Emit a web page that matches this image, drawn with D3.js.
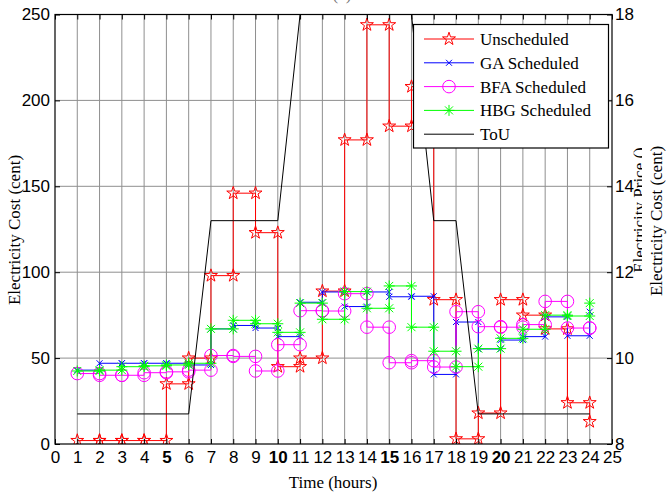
<!DOCTYPE html>
<html>
<head>
<meta charset="utf-8">
<script src="https://cdn.jsdelivr.net/npm/d3@7"></script>
<style>
  body { margin: 0; background: #fff; }
  svg { display: block; }
</style>
</head>
<body>
<svg id="chart" width="667" height="492"></svg>
<script>
// Hourly electricity cost for each scheduling strategy (cent) and ToU price
const hours = d3.range(1, 25);
const unscheduled  = [2, 2, 2, 2, 35, 50, 98, 146, 123, 45, 50, 89, 177, 244, 185, 208, 84, 3, 18, 84, 75, 67, 24, 13];
const gaScheduled  = [43, 47, 47, 47, 47, 46, 67, 69, 67.5, 62.5, 82.5, 88.5, 80, 88.5, 85.7, 86, 40.5, 71, 55.3, 60.5, 62.5, 74, 63, 77];
const bfaScheduled = [41, 40, 40, 41.5, 42, 43, 51.5, 51, 42.5, 57.8, 77.6, 77.4, 87.5, 68, 47.3, 48.5, 44.8, 77, 68.3, 68, 69.5, 83, 67.5, 67.5];
const hbgScheduled = [42.5, 43, 45, 45.5, 46, 47, 67, 72, 70, 65, 82, 72.6, 88.7, 79, 92, 68, 54, 45, 55.5, 61.5, 66.8, 75, 74.5, 82];
const touPrice     = [8.7, 8.7, 8.7, 8.7, 8.7, 8.7, 13.2, 13.2, 13.2, 13.2, 18, 18, 18, 18, 18, 18, 13.2, 13.2, 8.7, 8.7, 8.7, 8.7, 8.7, 8.7];

// Axis ticks and labels
const xTicks = d3.range(0, 26);
const boldHours = [5, 10, 15, 20];
const costTicks = [0, 50, 100, 150, 200, 250];
const priceTicks = [8, 10, 12, 14, 16, 18];
const seriesNames = ["Unscheduled", "GA Scheduled", "BFA Scheduled", "HBG Scheduled", "ToU"];
const seriesColors = ["#ff0000", "#0000ff", "#ff00ff", "#00ff00", "#000000"];
const seriesMarkers = ["star", "x", "circle", "asterisk", "none"];

const svg = d3.select("#chart");
const serif = "'Liberation Serif', 'Times New Roman', serif";
const sans = "'Liberation Sans', Arial, sans-serif";

const x = d3.scaleLinear().domain([0, 25]).range([55, 612]);
const yL = d3.scaleLinear().domain([0, 250]).range([444, 14.5]);
const yR = d3.scaleLinear().domain([8, 18]).range([444, 14.5]);

svg.append("rect").attr("width", 667).attr("height", 492).attr("fill", "#fff");

// Title, mostly above the visible area
svg.append("text").attr("x", 342).attr("y", 0).attr("text-anchor", "middle")
  .attr("font-family", serif).attr("font-size", 17).attr("fill", "#777").text("(a)");

// Grid
const grid = svg.append("g");
grid.selectAll("line.v").data(xTicks.slice(1, -1)).join("line").attr("class", "v")
  .attr("x1", d => x(d)).attr("x2", d => x(d))
  .attr("y1", yL(0)).attr("y2", yL(250))
  .attr("stroke", "#8f8f8f").attr("stroke-width", 1);
grid.selectAll("line.h").data(costTicks.slice(1, -1)).join("line").attr("class", "h")
  .attr("x1", x(0)).attr("x2", x(25))
  .attr("y1", d => yL(d)).attr("y2", d => yL(d))
  .attr("stroke", "#8f8f8f").attr("stroke-width", 1);

svg.append("clipPath").attr("id", "plotArea").append("rect")
  .attr("x", x(0)).attr("y", yL(250)).attr("width", x(25) - x(0)).attr("height", yL(0) - yL(250));

// Marker shapes
function markerPath(type) {
  if (type === "star") return d3.symbol(d3.symbolStar, 52)();
  if (type === "x") return "M-3,-3L3,3M-3,3L3,-3";
  if (type === "asterisk") return "M-5.5,0H5.5M0,-5.5V5.5M-4,-4L4,4M-4,4L4,-4";
  return null;
}
function drawMarker(g, type, color, cx, cy) {
  if (type === "circle") {
    g.append("circle").attr("cx", cx).attr("cy", cy).attr("r", 6.3)
      .attr("fill", "none").attr("stroke", color).attr("stroke-width", 1);
  } else if (type !== "none") {
    g.append("path").attr("d", markerPath(type)).attr("transform", `translate(${cx},${cy})`)
      .attr("fill", "none").attr("stroke", color).attr("stroke-width", 1);
  }
}

// Stair-step series with markers on every step vertex
const stairLine = d3.line().x(d => x(d[0])).y(d => yL(d[1])).curve(d3.curveStepAfter);
const plot = svg.append("g").attr("clip-path", "url(#plotArea)");
[unscheduled, gaScheduled, bfaScheduled, hbgScheduled].forEach((vals, k) => {
  const color = seriesColors[k];
  const pts = hours.map((h, i) => [h, vals[i]]);
  plot.append("path").attr("d", stairLine(pts))
    .attr("fill", "none").attr("stroke", color).attr("stroke-width", 1);
  const vertices = [[1, vals[0]]];
  for (let i = 1; i < vals.length; i++) {
    vertices.push([hours[i], vals[i - 1]]);
    vertices.push([hours[i], vals[i]]);
  }
  const mg = plot.append("g");
  vertices.forEach(v => drawMarker(mg, seriesMarkers[k], color, x(v[0]), yL(v[1])));
});

// ToU price on the right axis
const touLine = d3.line().x((d, i) => x(hours[i])).y(d => yR(d));
plot.append("path").attr("d", touLine(touPrice))
  .attr("fill", "none").attr("stroke", "#000").attr("stroke-width", 1);

// Axes
function styleAxis(g) {
  g.attr("font-family", sans).attr("font-size", 17);
  g.select(".domain").remove();
  g.selectAll(".tick line").attr("stroke", "#000");
  g.selectAll(".tick text").attr("fill", "#000");
}
svg.append("g").attr("transform", `translate(0,${yL(0)})`)
  .call(d3.axisBottom(x).tickValues(xTicks).tickSize(-5).tickPadding(7).tickFormat(d3.format("d")))
  .call(styleAxis)
  .selectAll(".tick text").attr("font-weight", d => boldHours.includes(d) ? "bold" : "normal");
svg.append("g").attr("transform", `translate(0,${yL(250)})`)
  .call(d3.axisTop(x).tickValues(xTicks).tickSize(-5).tickFormat(""))
  .call(styleAxis);
svg.append("g").attr("transform", `translate(${x(0)},0)`)
  .call(d3.axisLeft(yL).tickValues(costTicks).tickSize(-5).tickPadding(5).tickFormat(d3.format("d")))
  .call(styleAxis);
svg.append("g").attr("transform", `translate(${x(25)},0)`)
  .call(d3.axisRight(yR).tickValues(priceTicks).tickSize(-5).tickPadding(3).tickFormat(d3.format("d")))
  .call(styleAxis);

// Plot frame
svg.append("rect").attr("x", x(0)).attr("y", yL(250))
  .attr("width", x(25) - x(0)).attr("height", yL(0) - yL(250))
  .attr("fill", "none").attr("stroke", "#000").attr("stroke-width", 1.2);

// Legend
const legend = svg.append("g");
legend.append("rect").attr("x", 413.5).attr("y", 24.5).attr("width", 195).attr("height", 123.5)
  .attr("fill", "#fff").attr("stroke", "#000").attr("stroke-width", 1.2);
seriesNames.forEach((name, i) => {
  const ly = 39 + i * 23.8;
  legend.append("line").attr("x1", 424).attr("x2", 474).attr("y1", ly).attr("y2", ly)
    .attr("stroke", seriesColors[i]).attr("stroke-width", 1);
  drawMarker(legend, seriesMarkers[i], seriesColors[i], 449, ly);
  legend.append("text").attr("x", 480).attr("y", ly).attr("dy", "0.35em")
    .attr("font-family", serif).attr("font-size", 17).attr("fill", "#000").text(name);
});

// Axis titles
svg.append("text").attr("transform", "translate(20,230) rotate(-90)").attr("text-anchor", "middle")
  .attr("font-family", serif).attr("font-size", 17).text("Electricity Cost (cent)");
svg.append("text").attr("x", 333).attr("y", 488).attr("text-anchor", "middle")
  .attr("font-family", serif).attr("font-size", 17).text("Time (hours)");
svg.append("text").attr("transform", "translate(645,210) rotate(-90)").attr("text-anchor", "middle")
  .attr("font-family", serif).attr("font-size", 17).text("Electricity Price ()");
svg.append("rect").attr("x", 642).attr("y", 100).attr("width", 25).attr("height", 250).attr("fill", "#fff");
svg.append("text").attr("transform", "translate(662,221) rotate(-90)").attr("text-anchor", "middle")
  .attr("font-family", serif).attr("font-size", 17).text("Electricity Cost (cent)");
</script>
</body>
</html>
